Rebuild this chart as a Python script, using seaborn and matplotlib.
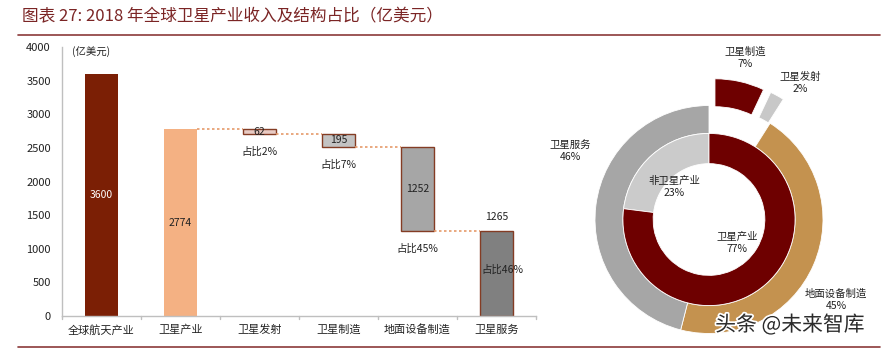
import numpy as np
import pandas as pd
import matplotlib
matplotlib.use("Agg")
import matplotlib.pyplot as plt
import matplotlib.patheffects as pe
from matplotlib.lines import Line2D
import seaborn as sns

# ---------------- data ----------------
categories = ["全球航天产业", "卫星产业", "卫星发射", "卫星制造", "地面设备制造", "卫星服务"]
values = [3600, 2774, 62, 195, 1252, 1265]
share_labels = ["", "", "占比2%", "占比7%", "占比45%", "占比46%"]
yticks = [0, 500, 1000, 1500, 2000, 2500, 3000, 3500, 4000]

inner_names = ["非卫星产业", "卫星产业"]
inner_pct = [23, 77]
outer_names = ["卫星制造", "卫星发射", "地面设备制造", "卫星服务"]
outer_pct = [7, 2, 45, 46]

title = "图表 27: 2018 年全球卫星产业收入及结构占比（亿美元）"
unit = "(亿美元)"

# waterfall bottoms: components hang down from the satellite-industry total
bottoms = [0.0, 0.0]
level = values[1]
for v in values[2:5]:
    level -= v
    bottoms.append(level)
bottoms.append(0.0)

# ---------------- style ----------------
sns.set_style("white")
plt.rcParams["font.family"] = ["Noto Sans CJK SC", "DejaVu Sans"]
plt.rcParams["axes.unicode_minus"] = False

W, H = 887, 351
fig = plt.figure(figsize=(W / 100, H / 100), dpi=100)

def fx(px):
    return px / W

def fy(py):
    return 1 - py / H

# title and rules
fig.text(fx(22), fy(17), title, fontsize=12, color="#7B2525",
         ha="left", va="center", style="italic")
fig.add_artist(Line2D([fx(18), fx(880)], [fy(35), fy(35)], color="#8B3A3A", lw=1.2))
fig.add_artist(Line2D([fx(18), fx(880)], [fy(347), fy(347)], color="#8B3A3A", lw=1.2))

# ---------------- waterfall bar chart ----------------
ax = fig.add_axes([fx(62), fy(316), fx(536) - fx(62), fy(47) - fy(316)])
df = pd.DataFrame({"cat": categories, "val": values, "bottom": bottoms})
bar_w = 0.42
sns.barplot(data=df, x="cat", y="val", order=categories, bottom=df["bottom"].values,
            width=bar_w, errorbar=None, color="#888888", ax=ax)

faces = ["#7B1F05", "#F4B183", "#E8CBC4", "#C3C3C3", "#A6A6A6", "#808080"]
edges = [None, None, "#843C24", "#843C24", "#843C24", "#843C24"]
for p, fc, ec in zip(ax.patches, faces, edges):
    p.set_facecolor(fc)
    if ec is None:
        p.set_edgecolor(fc)
        p.set_linewidth(0)
    else:
        p.set_edgecolor(ec)
        p.set_linewidth(1.0)

ax.set_ylim(0, 4000)
ax.set_xlim(-0.5, len(categories) - 0.5)
ax.set_yticks(yticks)
ax.set_xlabel("")
ax.set_ylabel("")
for s in ["top", "right"]:
    ax.spines[s].set_visible(False)
for s in ["left", "bottom"]:
    ax.spines[s].set_color("#BFBFBF")
    ax.spines[s].set_linewidth(1.0)
ax.tick_params(axis="y", length=0, labelsize=8, pad=8, colors="#222222")
ax.tick_params(axis="x", length=0, labelsize=8, pad=6, colors="#222222")
# category boundary ticks
for b in np.arange(-0.5, len(categories), 1.0):
    ax.plot([b, b], [0, -45], color="#BFBFBF", lw=1.0, clip_on=False)

# connectors
conn_col = "#E59A6A"
for i in range(1, 5):
    y = values[1] if i == 1 else bottoms[i]
    ax.plot([i + bar_w / 2, i + 1 - bar_w / 2], [y, y], linestyle=(0, (1.5, 1.5)),
            color=conn_col, lw=1.2)

# value labels
fs = 7.5
ax.text(0, values[0] / 2, f"{values[0]}", color="white", ha="center", va="center", fontsize=fs)
ax.text(1, values[1] / 2, f"{values[1]}", color="#222222", ha="center", va="center", fontsize=fs)
for i in (2, 3, 4):
    ax.text(i, bottoms[i] + values[i] / 2, f"{values[i]}", color="#222222",
            ha="center", va="center", fontsize=fs)
    ax.text(i, bottoms[i] - 270, share_labels[i], color="#222222",
            ha="center", va="center", fontsize=fs)
ax.text(5, values[5] + 200, f"{values[5]}", color="#222222", ha="center", va="center", fontsize=fs)
ax.text(5.07, values[5] * 0.54, share_labels[5], color="#222222", ha="center", va="center", fontsize=fs)

ax.text(0.021, 0.985, unit, transform=ax.transAxes, fontsize=fs, color="#222222",
        ha="left", va="center")

# ---------------- donut ----------------
cx, cy, R = 709, 219.5, 114.0
L = 1.5
ax2 = fig.add_axes([fx(cx - L * R), fy(cy + L * R), (2 * L * R) / W, (2 * L * R) / H])
ax2.set_xlim(-L, L)
ax2.set_ylim(-L, L)
ax2.axis("off")

outer_colors = ["#6E0000", "#C8C8C8", "#C4924F", "#A6A6A6"]
inner_colors = ["#CBCBCB", "#6E0000"]
ax2.pie(outer_pct, radius=1.0, startangle=90, counterclock=False,
        colors=outer_colors, explode=[0.24, 0.24, 0, 0],
        wedgeprops=dict(width=0.245, edgecolor="white", linewidth=0.6))
ax2.pie(inner_pct, radius=0.755, startangle=90, counterclock=True,
        colors=inner_colors,
        wedgeprops=dict(width=0.265, edgecolor="white", linewidth=0.6))
ax2.set_xlim(-L, L)
ax2.set_ylim(-L, L)

def dpos(px, py):
    return (px - cx) / R, (cy - py) / R

lbl_px = {
    "卫星制造": (745, 58),
    "卫星发射": (800, 83),
    "地面设备制造": (836, 300),
    "卫星服务": (570, 151),
    "非卫星产业": (674, 187),
    "卫星产业": (737, 243),
}
for n, p in zip(outer_names, outer_pct):
    x, y = dpos(*lbl_px[n])
    ax2.text(x, y, f"{n}\n{p}%", ha="center", va="center", fontsize=fs,
             color="#222222", linespacing=1.25)
for n, p in zip(inner_names, inner_pct):
    x, y = dpos(*lbl_px[n])
    ax2.text(x, y, f"{n}\n{p}%", ha="center", va="center", fontsize=fs,
             color="#222222", linespacing=1.25)

# watermark
fig.text(fx(790), fy(325), "头条 @未来智库", fontsize=15, color="#2A2A2A",
         ha="center", va="center",
         path_effects=[pe.withStroke(linewidth=2.5, foreground="white")])

fig.savefig("out.png", dpi=100)
